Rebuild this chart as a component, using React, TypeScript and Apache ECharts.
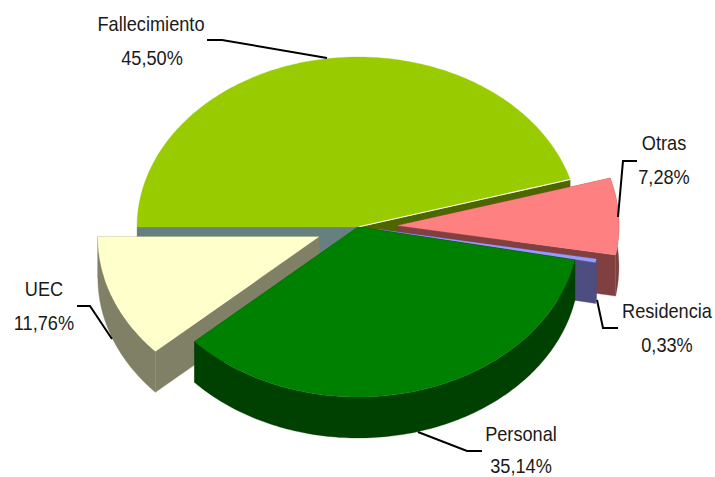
import React, { useEffect, useRef } from "react";
import * as echarts from "echarts";

const categories = ["Fallecimiento", "Otras", "Residencia", "Personal", "UEC"];
const shares = [45.5, 7.28, 0.33, 35.14, 11.76];

// Slice explosion (px along the slice bisector) and paint order
const explode = [0, 40, 21, 0, 42];
const paintOrder = [0, 1, 2, 4, 3];

const topColors = ["#99CC00", "#FF8080", "#9999FF", "#008000", "#FFFFCC"];
const rimColors = ["#4D6600", "#804040", "#4D4D80", "#004000", "#808066"];
const startFaceColors = ["#668080", "#804040", "#4D4D80", "#004000", "#808066"];
const endFaceColors = ["#4D6600", "#804040", "#4D4D80", "#004000", "#808066"];

const nameAnchors = [
  [151, 24],
  [664, 143],
  [667, 311],
  [521, 434],
  [44, 289],
];
const percentAnchors = [
  [152, 58],
  [664, 177],
  [667, 345],
  [521, 466],
  [44, 323],
];
const leaders = [
  [[207, 40], [222, 40], [327, 58]],
  [[637, 161], [623, 161], [618, 217]],
  [[597, 300], [603, 328], [618, 328]],
  [[418, 432], [467, 451], [482, 451]],
  [[77, 306], [90, 306], [112, 339]],
];

const CX = 358;
const CY = 227;
const RX = 221;
const RY = 170;
const DEPTH = 41;
const EXPLODE_TILT = 0.65;
const total = shares.reduce((a, b) => a + b, 0);

const pt = (deg: number) => {
  const t = (deg * Math.PI) / 180;
  return [RX * Math.cos(t), -RY * Math.sin(t)];
};

function renderSlice(params: any, api: any) {
  const i = params.dataIndex;
  let before = 0;
  for (let k = 0; k < i; k++) before += shares[k];
  const value = api.value(0);
  const a0 = 180 - (before / total) * 360;
  const a1 = a0 - (value / total) * 360;
  const mid = (a0 + a1) / 2;
  const t = (mid * Math.PI) / 180;
  const ox = CX + explode[i] * Math.cos(t);
  const oy = CY - explode[i] * Math.sin(t) * EXPLODE_TILT;

  const rim: number[][] = [];
  const steps = Math.max(2, Math.ceil(a0 - a1));
  for (let s = 0; s <= steps; s++) {
    const p = pt(a0 + ((a1 - a0) * s) / steps);
    rim.push([ox + p[0], oy + p[1]]);
  }
  const down = (p: number[]) => [p[0], p[1] + DEPTH];
  const first = rim[0];
  const last = rim[rim.length - 1];
  const apex = [ox, oy];
  const base = paintOrder.indexOf(i) * 10;

  const face = (points: number[][], fill: string, z2: number) => ({
    type: "polygon",
    z2,
    shape: { points },
    style: { fill, stroke: fill, lineWidth: 0.3 },
  });

  const children: any[] = [
    face([apex, first, down(first), down(apex)], startFaceColors[i], base + 1),
    face([apex, last, down(last), down(apex)], endFaceColors[i], base + 2),
    face([apex, ...rim], topColors[i], base + 4),
  ];
  if (a1 < 0) {
    children.push(face([...rim, ...rim.map(down).reverse()], rimColors[i], base + 3));
  }
  if (i === 0) {
    children.push({
      type: "line",
      z2: base + 5,
      shape: { x1: apex[0], y1: apex[1], x2: last[0], y2: last[1] },
      style: { stroke: "#FFFFFF", lineWidth: 1.2 },
    });
  }
  return { type: "group", children };
}

export default function App() {
  const ref = useRef<HTMLDivElement>(null);
  useEffect(() => {
    document.body.style.margin = "0";
    const chart = echarts.init(ref.current!, null, { renderer: "svg" });
    const fmt = (v: number) => v.toFixed(2).replace(".", ",") + "%";
    const label = (text: string, at: number[]) => ({
      type: "text",
      z: 10,
      silent: true,
      x: at[0],
      y: at[1],
      scaleX: 1.01,
      scaleY: 1.15,
      style: {
        text,
        fill: "#1A1A1A",
        font: '18px "Liberation Sans", Arial, sans-serif',
        align: "center",
        verticalAlign: "middle",
      },
    });
    chart.setOption({
      animation: false,
      backgroundColor: "#FFFFFF",
      series: [
        {
          type: "custom",
          coordinateSystem: "none",
          silent: true,
          renderItem: renderSlice,
          data: shares.map((v, i) => ({ name: categories[i], value: [v] })),
        },
      ],
      graphic: {
        elements: [
          ...leaders.map((points) => ({
            type: "polyline",
            z: 10,
            silent: true,
            shape: { points },
            style: { stroke: "#000000", lineWidth: 2, fill: "none" },
          })),
          ...categories.map((name, i) => label(name, nameAnchors[i])),
          ...shares.map((v, i) => label(fmt(v), percentAnchors[i])),
        ],
      },
    });
    return () => chart.dispose();
  }, []);
  return <div ref={ref} style={{ width: 715, height: 477 }} />;
}
